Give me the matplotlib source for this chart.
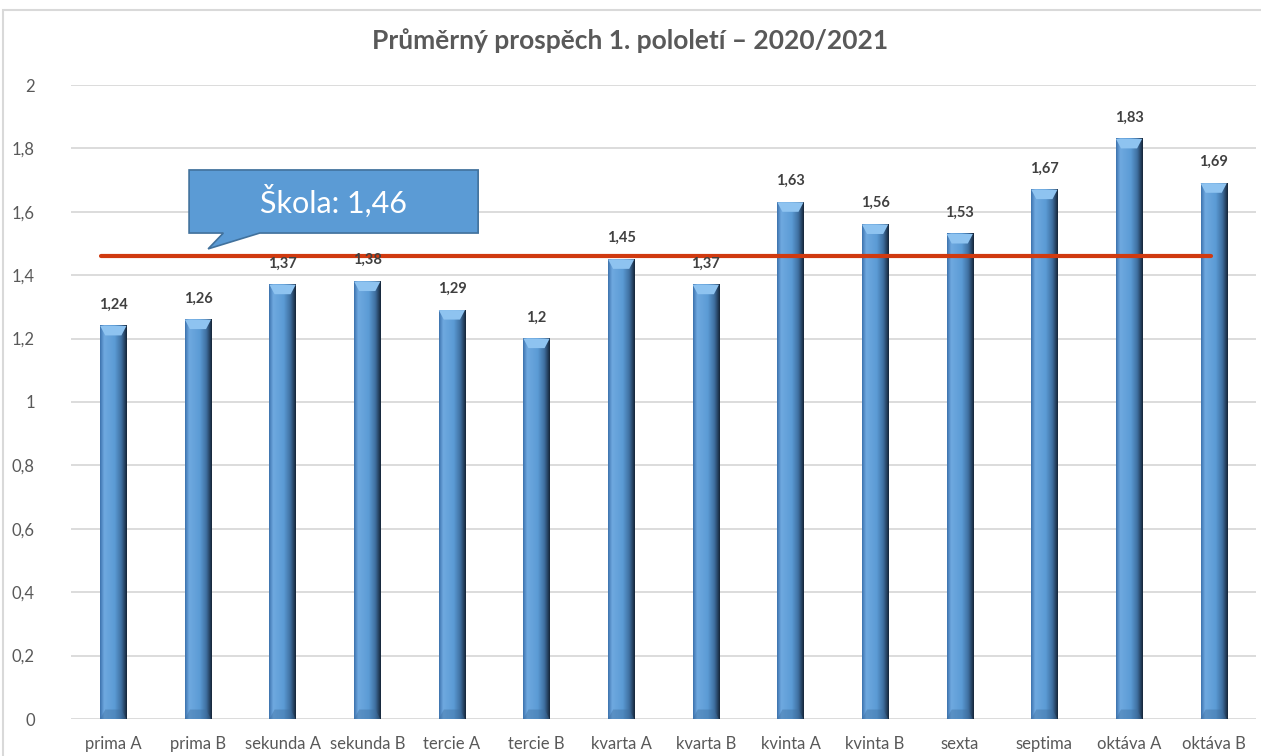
import numpy as np
import matplotlib
matplotlib.use("Agg")
import matplotlib.pyplot as plt
from matplotlib.patches import Polygon, Rectangle
from matplotlib.ticker import FuncFormatter

plt.rcParams['font.family'] = ['Lato', 'DejaVu Sans']

# data
tridy = ["prima A", "prima B", "sekunda A", "sekunda B", "tercie A", "tercie B",
         "kvarta A", "kvarta B", "kvinta A", "kvinta B", "sexta", "septima",
         "oktáva A", "oktáva B"]
prumer = [1.24, 1.26, 1.37, 1.38, 1.29, 1.2, 1.45, 1.37, 1.63, 1.56, 1.53, 1.67, 1.83, 1.69]
skola = 1.46
y_ticks = [0, 0.2, 0.4, 0.6, 0.8, 1.0, 1.2, 1.4, 1.6, 1.8, 2.0]

fig = plt.figure(figsize=(12.61, 7.56), dpi=100)
ax = fig.add_axes([71/1261, 1 - 719/756, 1185/1261, 634/756])

# chart frame
fig.patches.append(Rectangle((3/1261, -0.05), 1.2, 1 - 10/756 + 0.05, transform=fig.transFigure,
                             fill=False, edgecolor="#D9D9D9", linewidth=1.5, zorder=0))

ax.set_xlim(-0.5, len(tridy) - 0.5)
ax.set_ylim(0, 2)
ax.set_yticks(y_ticks)
ax.yaxis.set_major_formatter(FuncFormatter(lambda v, p: ("%g" % round(v, 1)).replace(".", ",")))
ax.grid(axis="y", color="#D9D9D9", linewidth=1.3, zorder=0)
ax.set_axisbelow(True)
for s in ax.spines.values():
    s.set_visible(False)
ax.tick_params(length=0, labelsize=12, colors="#595959", pad=12)
ax.tick_params(axis="y", pad=26)
ax.set_xticks(range(len(tridy)))
ax.set_xticklabels(tridy)

# gradient bars
w = 0.31
grad = np.linspace(0, 1, 64)
cmap = matplotlib.colors.LinearSegmentedColormap.from_list(
    "bev", [(0, "#3E73AE"), (0.15, "#6FA9E0"), (0.55, "#5B9BD5"), (0.8, "#3F6FA0"), (1, "#16263A")])
for i, v in enumerate(prumer):
    ax.imshow(grad[np.newaxis, :], cmap=cmap, aspect="auto",
              extent=[i - w/2, i + w/2, 0, v], zorder=2)
    d = 0.03
    top = Polygon([[i - w/2, v], [i + w/2, v], [i + w/2 - 0.06, v - d], [i - w/2 + 0.06, v - d]],
                  closed=True, facecolor="#8EC3F0", edgecolor="none", zorder=3)
    ax.add_patch(top)
    bot = Polygon([[i - w/2, 0], [i + w/2, 0], [i + w/2 - 0.06, d], [i - w/2 + 0.06, d]],
                  closed=True, facecolor="#3D6E9E", edgecolor="none", zorder=3, alpha=0.4)
    ax.add_patch(bot)
    ax.text(i, v + 0.045, ("%g" % v).replace(".", ","), ha="center", va="bottom",
            fontsize=10.5, fontweight="bold", color="#404040", zorder=5)

# school average line
ax.plot([-0.15, len(tridy) - 1.03], [skola, skola], color="#D03A10", linewidth=3, zorder=4,
        solid_capstyle="round")

# callout
x0, x1, yb, yt = 0.895, 4.31, 1.533, 1.732
callout = Polygon([[x0, yb], [x0, yt], [x1, yt], [x1, yb], [1.73, yb], [1.12, 1.483], [1.3, yb]],
                  closed=True, facecolor="#5B9BD5", edgecolor="#41719C", linewidth=1.2, zorder=6)
ax.add_patch(callout)
ax.text((x0 + x1) / 2, (yb + yt) / 2, "Škola: " + ("%g" % skola).replace(".", ","),
        ha="center", va="center", fontsize=22, color="white", zorder=7)

fig.suptitle("Průměrný prospěch 1. pololetí – 2020/2021", x=0.5, y=1 - 28/756, va="top",
             fontsize=19, fontweight="bold", color="#595959")

fig.savefig("out.png", dpi=100, facecolor="white")
